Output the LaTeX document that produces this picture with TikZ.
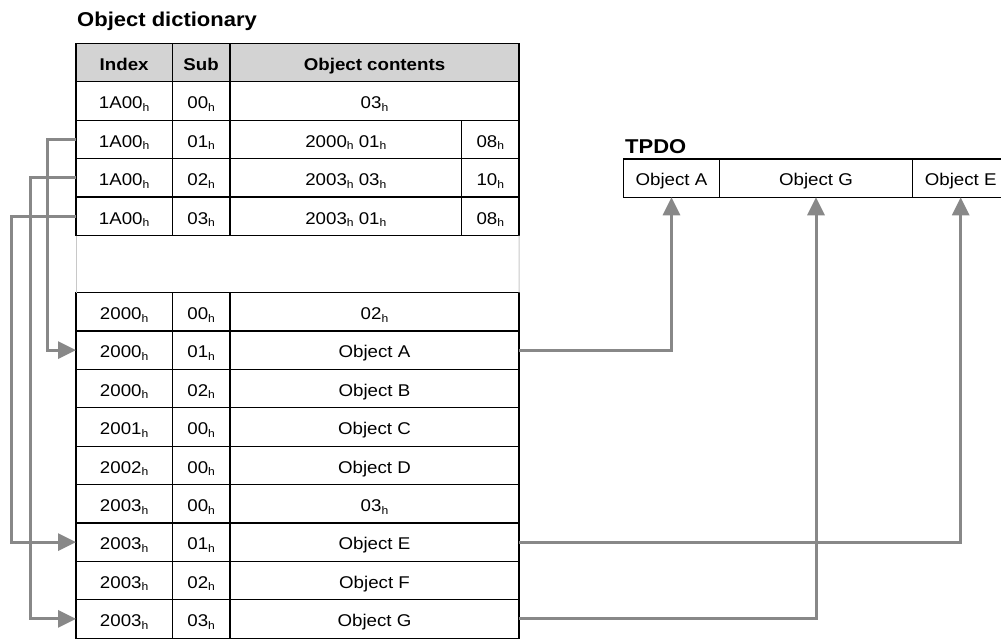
\documentclass[tikz,border=0pt]{standalone}
\usepackage{fontspec}
\setmainfont{Liberation Sans}[FakeStretch=1.1]
\usetikzlibrary{arrows.meta}
\definecolor{linegray}{RGB}{136,136,136}
\definecolor{headgray}{RGB}{211,211,211}
\definecolor{gapgray}{RGB}{200,200,200}
\newcommand{\hsb}{\raisebox{-2.6pt}{\fontsize{11}{11}\selectfont h}}
\begin{document}
\begin{tikzpicture}[x=1pt,y=-1pt,
  cell/.style={draw=black, line width=1.2pt, inner sep=0pt, outer sep=0pt,
    minimum height=38.4pt, text height=15.6pt, text depth=0pt,
    font=\fontsize{17}{20}\selectfont, anchor=north west},
  head/.style={cell, fill=headgray, font=\bfseries\fontsize{17}{20}\selectfont},
  title/.style={anchor=base west, inner sep=0pt, font=\bfseries\fontsize{20}{24}\selectfont},
  gapline/.style={draw=gapgray, line width=1pt},
  conn/.style={draw=linegray, line width=3pt, line join=miter,
    -{Triangle[length=18pt,width=17pt]}}]
\useasboundingbox (0,0) rectangle (1001,639);
\clip (0,0) rectangle (1001,639);
% titles
\node[title] (tdict) at (77,26.7) {Object dictionary};
\node[title] (ttpdo) at (625,154) {TPDO};
% header
\node[head, minimum width=96.3pt] (hi) at (76,43.5) {Index};
\node[head, minimum width=57.7pt] (hs) at (172.3,43.5) {Sub};
\node[head, minimum width=289pt] (hc) at (230,43.5) {Object contents};
% single-content rows
\foreach \n/\yy/\ix/\sb/\ct in {
  1/81.9/1A00/00/03\hsb,
  5/292.5/2000/00/02\hsb,
  6/330.9/2000/01/Object A,
  7/369.3/2000/02/Object B,
  8/407.7/2001/00/Object C,
  9/446.1/2002/00/Object D,
  10/484.5/2003/00/03\hsb,
  11/522.9/2003/01/Object E,
  12/561.3/2003/02/Object F,
  13/599.7/2003/03/Object G}{
  \node[cell, minimum width=96.3pt] (i\n) at (76,\yy) {\ix\hsb};
  \node[cell, minimum width=57.7pt] (s\n) at (172.3,\yy) {\sb\hsb};
  \node[cell, minimum width=289pt] (c\n) at (230,\yy) {\ct};
}
% mapping rows
\foreach \n/\yy/\sb/\ma/\mb/\sz in {
  2/120.3/01/2000/01/08,
  3/158.7/02/2003/03/10,
  4/197.1/03/2003/01/08}{
  \node[cell, minimum width=96.3pt] (i\n) at (76,\yy) {1A00\hsb};
  \node[cell, minimum width=57.7pt] (s\n) at (172.3,\yy) {\sb\hsb};
  \node[cell, minimum width=231.7pt] (c\n) at (230,\yy) {\ma\hsb{} \mb\hsb};
  \node[cell, minimum width=57.3pt] (z\n) at (461.7,\yy) {\sz\hsb};
}
% gap side lines
\draw[gapline] (i4.south west) -- (i5.north west);
\draw[gapline] (z4.south east) -- (c5.north east);
% TPDO
\node[cell, minimum width=96.4pt, minimum height=38.3pt] (tA) at (623.3,159) {Object A};
\node[cell, minimum width=192.6pt, minimum height=38.3pt] (tG) at (719.7,159) {Object G};
\node[cell, minimum width=96.8pt, minimum height=38.3pt] (tE) at (912.3,159) {Object E};
% connectors
\draw[conn] (i2.west) -- ++(-28.5,0) |- (i6.west);
\draw[conn] (i3.west) -- ++(-45.5,0) |- (i13.west);
\draw[conn] (i4.west) -- ++(-65,0) |- (i11.west);
\draw[conn] (c6.east) -| (tA.south);
\draw[conn] (c11.east) -| (tE.south);
\draw[conn] (c13.east) -| (tG.south);
\end{tikzpicture}
\end{document}
